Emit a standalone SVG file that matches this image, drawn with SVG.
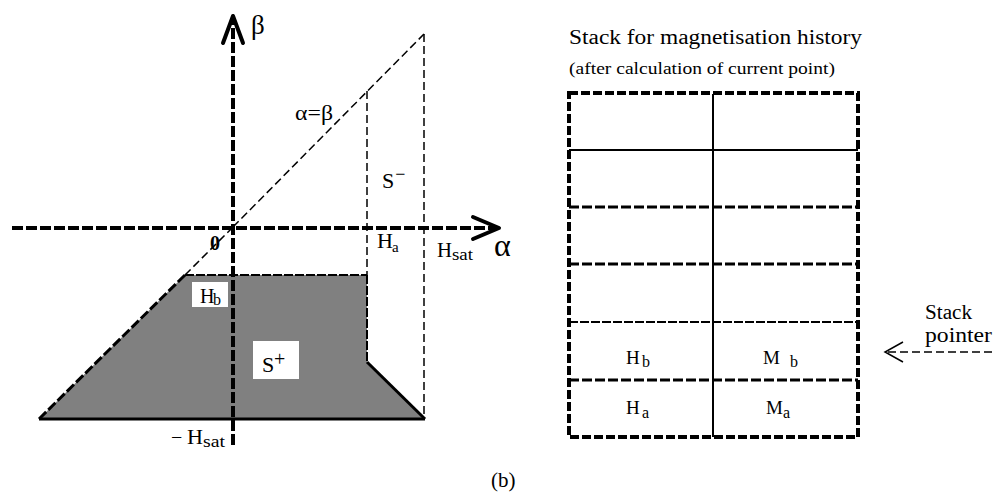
<svg xmlns="http://www.w3.org/2000/svg" width="1001" height="502" viewBox="0 0 1001 502">
<style>
text{font-family:"Liberation Serif","Times New Roman",serif;fill:#000}
.axis{stroke:#000;stroke-width:4;stroke-dasharray:11 3;fill:none}
.thin{stroke:#000;stroke-width:1.5;stroke-dasharray:8 4;fill:none}
.med{stroke:#000;stroke-width:2;stroke-dasharray:9 2;fill:none}
.thick{stroke:#000;stroke-width:3;stroke-dasharray:10 3;fill:none}
.head{stroke:#000;stroke-width:4;fill:none;stroke-linecap:round;stroke-linejoin:round}
.solid{stroke:#000;stroke-width:2;fill:none}
.box{stroke:#000;stroke-width:4;stroke-dasharray:9 3;fill:none}
</style>
<rect width="1001" height="502" fill="#fff"/>
<g id="plot">
  <polygon points="185,275 367,275 367,362 425,419 39,419" fill="#808080"/>
  <line class="thin" x1="233" y1="227" x2="424" y2="34"/>
  <line class="thick" x1="185" y1="275" x2="39" y2="419"/>
  <line class="thin" x1="233" y1="227" x2="185" y2="275"/>
  <line class="med" x1="185" y1="275" x2="367" y2="275"/>
  <line class="thin" x1="367" y1="91" x2="367" y2="275"/>
  <line class="med" x1="367" y1="275" x2="367" y2="362"/>
  <line class="solid" x1="367" y1="362" x2="425" y2="419" style="stroke-width:3"/>
  <line class="thin" x1="424" y1="34" x2="424" y2="419"/>
  <line class="solid" x1="39" y1="419" x2="425" y2="419" style="stroke-width:3"/>
  <line class="axis" x1="12" y1="228" x2="496" y2="228"/>
  <line class="axis" x1="233" y1="445" x2="233" y2="18"/>
  <polyline class="head" points="223,43 233,16 243,43"/>
  <polyline class="head" points="473,217 499,228 473,239"/>
  <text x="251" y="34" font-size="27">β</text>
  <text x="494" y="256" font-size="32">α</text>
  <text x="295" y="120" font-size="21" textLength="38" lengthAdjust="spacingAndGlyphs">α=β</text>
  <text x="382" y="188" font-size="22">S<tspan font-size="18" dx="1" dy="-8">−</tspan></text>
  <text x="210" y="250" font-size="20" font-weight="bold">0</text>
  <text x="377" y="248" font-size="20" textLength="16" lengthAdjust="spacingAndGlyphs">H</text>
  <text x="392" y="252" font-size="15">a</text>
  <text x="437" y="257" font-size="20" textLength="15" lengthAdjust="spacingAndGlyphs">H</text>
  <text x="452" y="260" font-size="16" textLength="21" lengthAdjust="spacingAndGlyphs">sat</text>
  <rect x="192" y="282" width="36" height="25" fill="#fff"/>
  <text x="200" y="303" font-size="20">H</text>
  <text x="213" y="305" font-size="16">b</text>
  <rect x="253" y="341" width="46" height="38" fill="#fff"/>
  <text x="262" y="372" font-size="22">S</text>
  <text x="274" y="366" font-size="20">+</text>
  <text x="171" y="444" font-size="20">−</text>
  <text x="187" y="444" font-size="20" textLength="16" lengthAdjust="spacingAndGlyphs">H</text>
  <text x="203" y="447" font-size="16" textLength="22" lengthAdjust="spacingAndGlyphs">sat</text>
</g>
<g id="stack">
  <text x="569" y="44" font-size="20" textLength="293" lengthAdjust="spacingAndGlyphs">Stack for magnetisation history</text>
  <text x="569" y="74" font-size="16.5" textLength="266" lengthAdjust="spacingAndGlyphs">(after calculation of current point)</text>
  <line class="solid" x1="713" y1="94" x2="713" y2="437"/>
  <line class="solid" x1="569" y1="150" x2="858" y2="150"/>
  <line class="thick" x1="569" y1="207" x2="858" y2="207"/>
  <line class="thick" x1="569" y1="264" x2="858" y2="264"/>
  <line class="med" x1="569" y1="322" x2="858" y2="322"/>
  <line class="thick" x1="569" y1="380" x2="858" y2="380"/>
  <rect class="box" x="569" y="93" width="289" height="344"/>
  <text x="626" y="364" font-size="19">H</text>
  <text x="642" y="367" font-size="16">b</text>
  <text x="763" y="364" font-size="19">M</text>
  <text x="790" y="367" font-size="16">b</text>
  <text x="626" y="414" font-size="19">H</text>
  <text x="642" y="418" font-size="16">a</text>
  <text x="766" y="414" font-size="19">M</text>
  <text x="783" y="418" font-size="16">a</text>
</g>
<g id="pointer">
  <text x="925" y="319" font-size="20" textLength="47" lengthAdjust="spacingAndGlyphs">Stack</text>
  <text x="925" y="342" font-size="20" textLength="67" lengthAdjust="spacingAndGlyphs">pointer</text>
</g>
<g id="connectors">
  <line class="thin" x1="992" y1="352" x2="887" y2="352"/>
  <polyline points="903,342 885,352 903,362" fill="none" stroke="#000" stroke-width="1.5"/>
</g>
<text x="491" y="487" font-size="21">(b)</text>
</svg>
